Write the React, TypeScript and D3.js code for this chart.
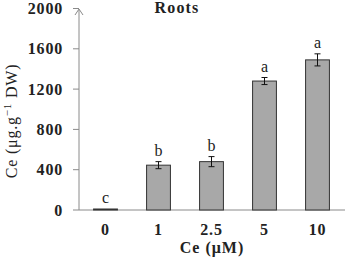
import React, { useEffect, useRef } from 'react';
import * as d3 from 'd3';

const categories = ['0', '1', '2.5', '5', '10'];
const values = [10, 445, 480, 1280, 1490];
const errors = [0, 35, 50, 35, 60];
const letters = ['c', 'b', 'b', 'a', 'a'];
const yTicks = [0, 400, 800, 1200, 1600, 2000];

const App: React.FC = () => {
    const svgRef = useRef<SVGSVGElement | null>(null);

    useEffect(() => {
        const svg = d3.select(svgRef.current);
        svg.selectAll('*').remove();
        const font = '"Liberation Serif", "Times New Roman", serif';

        const x = d3.scaleBand()
            .domain(categories)
            .range([79, 344])
            .paddingInner(0.55)
            .paddingOuter(0.275);

        const y = d3.scaleLinear().domain([0, 2000]).range([210, 8.5]);

        const axisColor = '#8a8a8a';

        // y axis line with arrow
        svg.append('line')
            .attr('x1', 79).attr('x2', 79)
            .attr('y1', y(0)).attr('y2', 10)
            .attr('stroke', axisColor).attr('stroke-width', 1);
        svg.append('path')
            .attr('d', 'M75,15 L79,9 L83,15')
            .attr('fill', 'none')
            .attr('stroke', axisColor).attr('stroke-width', 1);

        // x axis line
        svg.append('line')
            .attr('x1', 79).attr('x2', 345)
            .attr('y1', y(0)).attr('y2', y(0))
            .attr('stroke', axisColor).attr('stroke-width', 1);

        // y ticks
        const yt = svg.append('g');
        yt.selectAll('line').data(yTicks).enter().append('line')
            .attr('x1', 73).attr('x2', 79)
            .attr('y1', d => y(d)).attr('y2', d => y(d))
            .attr('stroke', axisColor);
        yt.selectAll('text').data(yTicks).enter().append('text')
            .attr('x', 63).attr('y', d => y(d))
            .attr('dy', '0.35em')
            .attr('text-anchor', 'end')
            .attr('font-family', font).attr('font-weight', 'bold').attr('font-size', 16)
            .attr('letter-spacing', 0.8)
            .attr('fill', '#222')
            .text(d => d);

        // bars
        svg.selectAll('.bar').data(values).enter().append('rect')
            .attr('x', (d, i) => x(categories[i]) ?? 0)
            .attr('y', d => y(d))
            .attr('width', x.bandwidth())
            .attr('height', d => y(0) - y(d))
            .attr('fill', '#a8a8a8')
            .attr('stroke', '#333')
            .attr('stroke-width', 1);

        // error bars
        const eb = svg.append('g').attr('stroke', '#111').attr('stroke-width', 1);
        values.forEach((v, i) => {
            if (!errors[i]) return;
            const cx = (x(categories[i]) ?? 0) + x.bandwidth() / 2;
            eb.append('line').attr('x1', cx).attr('x2', cx).attr('y1', y(v - errors[i])).attr('y2', y(v + errors[i]));
            eb.append('line').attr('x1', cx - 3).attr('x2', cx + 3).attr('y1', y(v - errors[i])).attr('y2', y(v - errors[i]));
            eb.append('line').attr('x1', cx - 3).attr('x2', cx + 3).attr('y1', y(v + errors[i])).attr('y2', y(v + errors[i]));
        });

        // significance letters
        svg.selectAll('.letter').data(letters).enter().append('text')
            .attr('x', (d, i) => (x(categories[i]) ?? 0) + x.bandwidth() / 2)
            .attr('y', (d, i) => y(values[i] + errors[i]) - 6)
            .attr('text-anchor', 'middle')
            .attr('font-family', font).attr('font-size', 16)
            .attr('fill', '#222')
            .text(d => d);

        // x tick labels
        svg.selectAll('.xl').data(categories).enter().append('text')
            .attr('x', d => (x(d) ?? 0) + x.bandwidth() / 2)
            .attr('y', 235)
            .attr('text-anchor', 'middle')
            .attr('font-family', font).attr('font-weight', 'bold').attr('font-size', 16)
            .attr('letter-spacing', 0.8)
            .attr('fill', '#222')
            .text(d => d);

        // title
        svg.append('text')
            .attr('x', 177).attr('y', 13)
            .attr('text-anchor', 'middle')
            .attr('font-family', font).attr('font-weight', 'bold').attr('font-size', 16)
            .attr('letter-spacing', 1.2)
            .attr('fill', '#222')
            .text('Roots');

        // x axis label
        svg.append('text')
            .attr('x', 212).attr('y', 253)
            .attr('text-anchor', 'middle')
            .attr('font-family', font).attr('font-weight', 'bold').attr('font-size', 16)
            .attr('letter-spacing', 1)
            .attr('fill', '#222')
            .text('Ce (μM)');

        // y axis label
        const yl = svg.append('text')
            .attr('transform', 'translate(17,121) rotate(-90)')
            .attr('text-anchor', 'middle')
            .attr('font-family', font).attr('font-size', 16)
            .attr('letter-spacing', 0.8)
            .attr('fill', '#222');
        yl.append('tspan').text('Ce (μg.g');
        yl.append('tspan').attr('dy', -6).attr('font-size', 11).text('−1');
        yl.append('tspan').attr('dy', 6).text(' DW)');
    }, []);

    return (
        <svg ref={svgRef} width={345} height={259}
            style={{ position: 'absolute', left: 0, top: 0, background: '#fff' }} />
    );
};

export default App;
